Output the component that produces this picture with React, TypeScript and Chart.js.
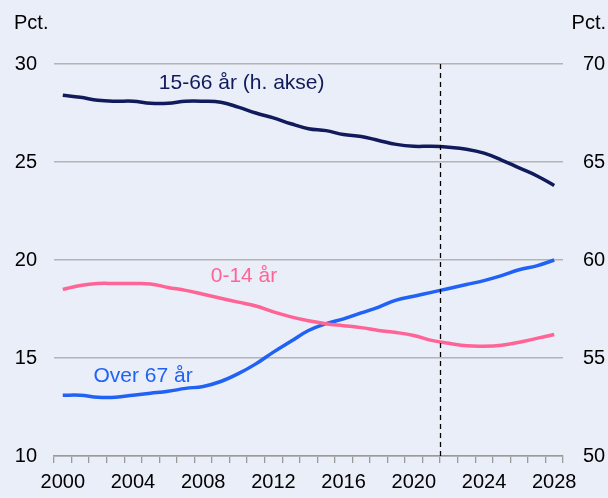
import React, { useEffect, useRef } from "react";
import { Chart, registerables } from "chart.js";

Chart.register(...registerables);

const years = [
  "2000", "2001", "2002", "2003", "2004", "2005", "2006", "2007", "2008", "2009",
  "2010", "2011", "2012", "2013", "2014", "2015", "2016", "2017", "2018", "2019",
  "2020", "2021", "2022", "2023", "2024", "2025", "2026", "2027", "2028",
];
const labeledYears = ["2000", "2004", "2008", "2012", "2016", "2020", "2024", "2028"];

// 15-66 år (right axis)
const age15to66 = [
  68.4, 68.3, 68.15, 68.1, 68.1, 68.0, 68.0, 68.1, 68.1, 68.05,
  67.8, 67.5, 67.25, 66.95, 66.7, 66.6, 66.4, 66.3, 66.1, 65.9,
  65.8, 65.8, 65.75, 65.65, 65.45, 65.1, 64.7, 64.3, 63.8,
];
// 0-14 år (left axis)
const age0to14 = [
  18.5, 18.7, 18.8, 18.8, 18.8, 18.78, 18.6, 18.45, 18.25, 18.05,
  17.85, 17.65, 17.35, 17.1, 16.9, 16.75, 16.65, 16.55, 16.4, 16.3,
  16.15, 15.9, 15.75, 15.62, 15.6, 15.65, 15.8, 16.0, 16.2,
];
// Over 67 år (left axis)
const over67 = [
  13.1, 13.1, 13.0, 13.0, 13.1, 13.2, 13.3, 13.45, 13.55, 13.8,
  14.2, 14.7, 15.3, 15.85, 16.4, 16.75, 17.0, 17.3, 17.6, 17.95,
  18.15, 18.35, 18.55, 18.75, 18.95, 19.2, 19.5, 19.7, 20.0,
];

const leftTicks = [10, 15, 20, 25, 30];
const rightTicks = [50, 55, 60, 65, 70];
const forecastBetween = ["2021", "2022"];

const seriesLabels = [
  { text: "15-66 år (h. akse)", year: 5.47, value: 69.0, axis: "y2", color: "#111b5c" },
  { text: "0-14 år", year: 8.43, value: 19.16, axis: "y", color: "#ff6496" },
  { text: "Over 67 år", year: 1.75, value: 14.09, axis: "y", color: "#1f62f5" },
];

const FONT = "'Liberation Sans', Arial, sans-serif";
const BG = "#eaeef8";

export default function App() {
  const canvasRef = useRef<HTMLCanvasElement | null>(null);

  useEffect(() => {
    const canvas = canvasRef.current;
    if (!canvas) return;

    const overlay = {
      id: "overlay",
      beforeDraw(chart: any) {
        const ctx = chart.ctx;
        ctx.save();
        ctx.fillStyle = BG;
        ctx.fillRect(0, 0, chart.width, chart.height);
        ctx.restore();
      },
      afterDatasetsDraw(chart: any) {
        const ctx = chart.ctx;
        const x = chart.scales.x;
        const area = chart.chartArea;
        const i0 = years.indexOf(forecastBetween[0]);
        const i1 = years.indexOf(forecastBetween[1]);
        const px = Math.round((x.getPixelForValue(i0) + x.getPixelForValue(i1)) / 2) + 0.5;
        ctx.save();
        ctx.strokeStyle = "#000";
        ctx.lineWidth = 1.3;
        ctx.setLineDash([5, 4]);
        ctx.beginPath();
        ctx.moveTo(px, area.top);
        ctx.lineTo(px, area.bottom);
        ctx.stroke();
        ctx.restore();
      },
      afterDraw(chart: any) {
        const ctx = chart.ctx;
        ctx.save();
        ctx.font = `20px ${FONT}`;
        ctx.fillStyle = "#000";
        ctx.textBaseline = "middle";
        ctx.textAlign = "left";
        ctx.fillText("Pct.", 14, 23);
        ctx.textAlign = "right";
        ctx.fillText("Pct.", 606, 23);
        ctx.font = `21px ${FONT}`;
        for (const l of seriesLabels) {
          const px = chart.scales.x.getPixelForValue(l.year);
          const py = chart.scales[l.axis].getPixelForValue(l.value);
          ctx.fillStyle = l.color;
          ctx.textAlign = "left";
          ctx.fillText(l.text, px, py);
        }
        ctx.restore();
      },
    };

    const tickFont = { family: FONT, size: 20 };

    const chart = new Chart(canvas, {
      type: "line",
      data: {
        labels: years,
        datasets: [
          {
            label: "15-66 år (h. akse)",
            data: age15to66,
            yAxisID: "y2",
            borderColor: "#111b5c",
            borderWidth: 3.5,
            pointRadius: 0,
            tension: 0.4,
          },
          {
            label: "0-14 år",
            data: age0to14,
            yAxisID: "y",
            borderColor: "#ff6496",
            borderWidth: 3.5,
            pointRadius: 0,
            tension: 0.4,
          },
          {
            label: "Over 67 år",
            data: over67,
            yAxisID: "y",
            borderColor: "#1f62f5",
            borderWidth: 3.5,
            pointRadius: 0,
            tension: 0.4,
          },
        ],
      },
      plugins: [overlay],
      options: {
        animation: false,
        responsive: false,
        devicePixelRatio: 1,
        layout: { padding: { top: 64, left: 0, right: 0, bottom: 0 } },
        plugins: { legend: { display: false }, tooltip: { enabled: false } },
        scales: {
          x: {
            type: "category",
            offset: true,
            grid: {
              offset: true,
              drawOnChartArea: false,
              drawTicks: true,
              tickLength: 7,
              color: "#9a9a9a",
              lineWidth: 1.3,
            },
            border: { display: true, color: "#9a9a9a", width: 1.5 },
            ticks: {
              autoSkip: false,
              maxRotation: 0,
              padding: 7,
              color: "#000",
              font: tickFont,
              callback: (_v: any, i: number) =>
                labeledYears.includes(years[i]) ? years[i] : "",
            },
            afterFit: (s: any) => {
              s.height = 42;
            },
          },
          y: {
            position: "left",
            min: leftTicks[0],
            max: leftTicks[leftTicks.length - 1],
            afterBuildTicks: (s: any) => {
              s.ticks = leftTicks.map((v) => ({ value: v }));
            },
            ticks: { padding: 17, color: "#000", font: tickFont },
            grid: { drawTicks: false, color: "#b4b4b4", lineWidth: 1.5 },
            border: { display: false },
            afterFit: (s: any) => {
              s.width = 54;
            },
          },
          y2: {
            position: "right",
            min: rightTicks[0],
            max: rightTicks[rightTicks.length - 1],
            afterBuildTicks: (s: any) => {
              s.ticks = rightTicks.map((v) => ({ value: v }));
            },
            ticks: { padding: 20, color: "#000", font: tickFont },
            grid: { display: false, drawTicks: false },
            border: { display: false },
            afterFit: (s: any) => {
              s.width = 45;
            },
          },
        },
      },
    } as any);

    return () => chart.destroy();
  }, []);

  return (
    <div
      style={{
        position: "fixed",
        left: 0,
        top: 0,
        width: 608,
        height: 498,
        background: BG,
      }}
    >
      <canvas ref={canvasRef} width={608} height={498} style={{ display: "block" }} />
    </div>
  );
}
